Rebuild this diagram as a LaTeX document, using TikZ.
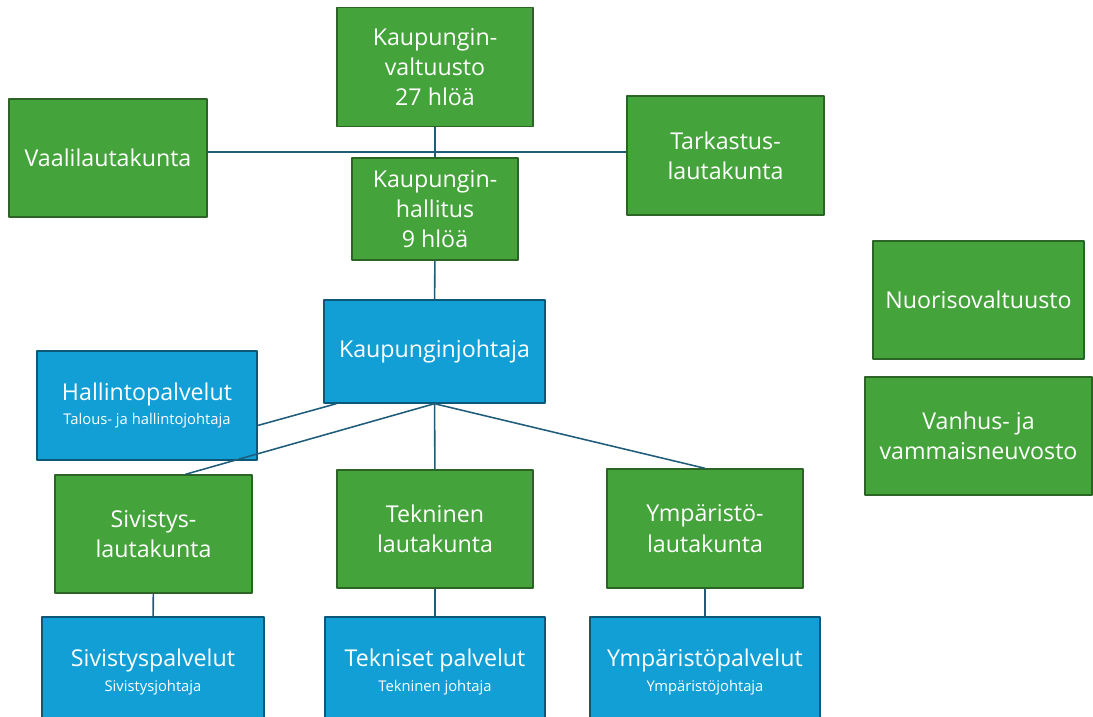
\documentclass[tikz,border=0pt]{standalone}
\usepackage{fontspec}
\setmainfont{Open Sans}
\usetikzlibrary{calc}
\definecolor{lautavihrea}{HTML}{45A33B}
\definecolor{reunavihrea}{HTML}{2C6426}
\definecolor{palvelusini}{HTML}{119FD6}
\definecolor{reunasini}{HTML}{0D5876}
\definecolor{linjasini}{HTML}{1E5C7A}
\newcommand{\alarivi}[1]{{\fontsize{10.5}{12}\selectfont #1}}

\begin{document}
\begin{tikzpicture}[x=0.025cm,y=-0.025cm,join=round,
        laatikko/.style={draw,line width=1pt,inner sep=0pt,align=center,text=white,
                font=\fontsize{16.5}{21.5}\selectfont},
        toimielin/.style={laatikko,draw=reunavihrea,fill=lautavihrea},
        palvelu/.style={laatikko,draw=reunasini,fill=palvelusini},
        koko/.style 2 args={minimum width=#1*0.025cm,minimum height=#2*0.025cm},
        yhteys/.style={draw=linjasini,line width=1.1pt}]
        \useasboundingbox (0,0) rectangle (1093,717);
        \node[toimielin,koko={196}{119}] (valtuusto) at (435,67) {Kaupungin-\\valtuusto\\27 hlöä};
        \node[toimielin,koko={198}{118}] (vaali) at (108,158) {Vaalilautakunta};
        \node[toimielin,koko={197}{119}] (tarkastus) at (725.5,155.5) {Tarkastus-\\lautakunta};
        \node[toimielin,koko={166}{102}] (hallitus) at (435,209) {Kaupungin-\\hallitus\\9 hlöä};
        \node[palvelu,koko={221}{103}] (johtaja) at (434.5,351.5) {Kaupunginjohtaja};
        \node[palvelu,koko={220}{109}] (hallinto) at (147,405.5) {Hallintopalvelut\\[-4pt]\alarivi{Talous- ja hallintojohtaja}};
        \node[toimielin,koko={211}{118}] (nuoriso) at (978.5,300) {Nuorisovaltuusto};
        \node[toimielin,koko={227}{118}] (vanhus) at (978.5,436) {Vanhus- ja\\vammaisneuvosto};
        \node[toimielin,koko={197}{118}] (sivltk) at (153.5,534) {Sivistys-\\lautakunta};
        \node[toimielin,koko={196}{118}] (tekltk) at (435,529) {Tekninen\\lautakunta};
        \node[toimielin,koko={196}{119}] (ympltk) at (705,528.5) {Ympäristö-\\lautakunta};
        \node[palvelu,koko={222}{110}] (sivpal) at (153,672) {Sivistyspalvelut\\[-4pt]\alarivi{Sivistysjohtaja}};
        \node[palvelu,koko={220}{110}] (tekpal) at (435,672) {Tekniset palvelut\\[-4pt]\alarivi{Tekninen johtaja}};
        \node[palvelu,koko={230}{110}] (ympal) at (705,672) {Ympäristöpalvelut\\[-4pt]\alarivi{Ympäristöjohtaja}};
        \coordinate (vaakalinja) at (435,152);
        \draw[yhteys] (valtuusto) -- (hallitus);
        \draw[yhteys] (vaali.east |- vaakalinja) -- (tarkastus.west |- vaakalinja);
        \draw[yhteys] (hallitus) -- (johtaja);
        \draw[yhteys] ($(johtaja.south west)+(13,0)$) -- ($(hallinto.east)+(0,20)$);
        \draw[yhteys] (johtaja.south) -- ($(sivltk.north)+(32,0)$);
        \draw[yhteys] (johtaja) -- (tekltk);
        \draw[yhteys] (johtaja.south) -- (ympltk.north);
        \draw[yhteys] (sivltk) -- (sivpal);
        \draw[yhteys] (tekltk) -- (tekpal);
        \draw[yhteys] (ympltk) -- (ympal);
\end{tikzpicture}
\end{document}
